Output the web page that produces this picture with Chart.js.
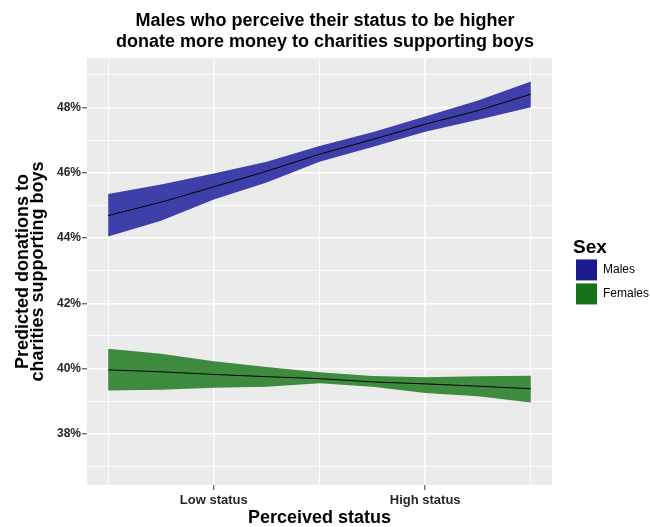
<!DOCTYPE html>
<html>
<head>
<meta charset="utf-8">
<script src="https://cdn.jsdelivr.net/npm/chart.js@4.4.1/dist/chart.umd.min.js"></script>
<style>
  html, body { margin: 0; padding: 0; background: #ffffff; }
  #wrap { width: 650px; height: 527px; position: relative; }
</style>
</head>
<body>
<div id="wrap"><canvas id="chart_donations"></canvas></div>
<script>
// perceived status (centred), read at half-unit steps
var statusX = [-2, -1.5, -1, -0.5, 0, 0.5, 1, 1.5, 2];

var malesFit   = [44.69, 45.10, 45.57, 46.05, 46.57, 47.02, 47.49, 47.91, 48.41];
var malesUpper = [45.35, 45.64, 45.98, 46.34, 46.82, 47.24, 47.73, 48.22, 48.80];
var malesLower = [44.05, 44.53, 45.18, 45.70, 46.34, 46.79, 47.26, 47.63, 48.01];

var femalesFit   = [39.96, 39.90, 39.82, 39.75, 39.69, 39.59, 39.53, 39.46, 39.38];
var femalesUpper = [40.61, 40.45, 40.22, 40.05, 39.89, 39.77, 39.73, 39.76, 39.78];
var femalesLower = [39.33, 39.35, 39.41, 39.44, 39.55, 39.44, 39.25, 39.15, 38.96];

var seriesNames = ['Males', 'Females'];
var legendColors = ['#1b1b8c', '#17701a'];
var bandColors = ['#3f3fa9', '#3e8a3e'];

var xTickValues = [-2, -1, 0, 1, 2];
var xTickLabels = ['', 'Low status', '', 'High status', ''];
var xMajor = [false, true, false, true, false];

var yTickValues = [37, 38, 39, 40, 41, 42, 43, 44, 45, 46, 47, 48, 49];
var yTickLabels = ['', '38%', '', '40%', '', '42%', '', '44%', '', '46%', '', '48%', ''];
var yMajor = [false, true, false, true, false, true, false, true, false, true, false, true, false];

var FONT = "'Liberation Sans', Arial, sans-serif";

function pts(ys) {
    return statusX.map(function(x, i) { return {x: x, y: ys[i]}; });
}

function bandSets(upper, lower, fit, idx) {
    return [
        {
            label: seriesNames[idx] + ' upper',
            data: pts(upper),
            order: 2,
            borderWidth: 0,
            pointRadius: 0,
            backgroundColor: bandColors[idx],
            fill: '+1'
        },
        {
            label: seriesNames[idx] + ' lower',
            data: pts(lower),
            order: 2,
            borderWidth: 0,
            pointRadius: 0,
            fill: false
        },
        {
            label: seriesNames[idx],
            data: pts(fit),
            order: 0,
            borderColor: '#000000',
            borderWidth: 1,
            pointRadius: 0,
            fill: false
        }
    ];
}

var chart_donations = new Chart(document.getElementById('chart_donations'), {
    type: 'line',
    data: {
        datasets: bandSets(malesUpper, malesLower, malesFit, 0)
            .concat(bandSets(femalesUpper, femalesLower, femalesFit, 1))
    },
    options: {
        animation: false,
        responsive: true,
        maintainAspectRatio: false,
        layout: { padding: { left: 0, right: 0, top: 0, bottom: 0 } },
        plugins: {
            title: {
                display: true,
                text: ['Males who perceive their status to be higher',
                       'donate more money to charities supporting boys'],
                color: '#000000',
                font: { family: FONT, size: 18, weight: 'bold', lineHeight: 1.2 },
                padding: { top: 10, bottom: 4.8 }
            },
            legend: {
                position: 'right',
                align: 'center',
                maxWidth: 77,
                title: {
                    display: true,
                    text: 'Sex',
                    position: 'start',
                    color: '#000000',
                    font: { family: FONT, size: 19, weight: 'bold', lineHeight: 0.94 },
                    padding: { top: 19, bottom: 0 }
                },
                labels: {
                    boxWidth: 21,
                    boxHeight: 21,
                    padding: 3,
                    color: '#1a1a1a',
                    font: { family: FONT, size: 12 },
                    generateLabels: function(chart) {
                        return seriesNames.map(function(name, i) {
                            return {
                                text: name,
                                fillStyle: legendColors[i],
                                strokeStyle: legendColors[i],
                                lineWidth: 0,
                                hidden: false,
                                datasetIndex: i * 3
                            };
                        });
                    }
                }
            },
            tooltip: { enabled: false }
        },
        scales: {
            x: {
                type: 'linear',
                min: -2.2,
                max: 2.2,
                afterBuildTicks: function(scale) {
                    scale.ticks = xTickValues.map(function(v) { return {value: v}; });
                },
                afterFit: function(scale) { scale.height = 42; },
                border: { display: false },
                grid: {
                    color: '#ffffff',
                    lineWidth: function(ctx) { return xMajor[ctx.index] ? 1.6 : 0.8; },
                    tickLength: 5,
                    tickWidth: 1,
                    tickColor: function(ctx) { return xMajor[ctx.index] ? '#333333' : 'rgba(0,0,0,0)'; }
                },
                ticks: {
                    autoSkip: false,
                    maxRotation: 0,
                    padding: 3,
                    color: '#262626',
                    font: { family: FONT, size: 13, weight: 'bold' },
                    callback: function(value, index) { return xTickLabels[index]; }
                },
                title: {
                    display: true,
                    text: 'Perceived status',
                    color: '#000000',
                    font: { family: FONT, size: 18, weight: 'bold', lineHeight: 1.0 },
                    padding: { top: 0, bottom: 0 }
                }
            },
            y: {
                type: 'linear',
                min: 36.43,
                max: 49.52,
                afterBuildTicks: function(scale) {
                    scale.ticks = yTickValues.map(function(v) { return {value: v}; });
                },
                afterFit: function(scale) { scale.width = 87; },
                border: { display: false },
                grid: {
                    color: '#ffffff',
                    lineWidth: function(ctx) { return yMajor[ctx.index] ? 1.6 : 0.8; },
                    tickLength: 5,
                    tickWidth: 1,
                    tickColor: function(ctx) { return yMajor[ctx.index] ? '#333333' : 'rgba(0,0,0,0)'; }
                },
                ticks: {
                    autoSkip: false,
                    padding: 1,
                    color: '#262626',
                    font: { family: FONT, size: 12, weight: 'bold' },
                    callback: function(value, index) { return yTickLabels[index]; }
                },
                title: {
                    display: true,
                    text: ['Predicted donations to', 'charities supporting boys'],
                    color: '#000000',
                    font: { family: FONT, size: 18, weight: 'bold', lineHeight: 0.8 },
                    padding: { top: 16.3, bottom: 0 }
                }
            },
            // empty strip between the panel and the legend
            gap: {
                type: 'linear',
                position: 'right',
                display: true,
                afterFit: function(scale) { scale.width = 21; },
                border: { display: false },
                grid: { display: false, drawTicks: false },
                ticks: { display: false }
            }
        }
    },
    plugins: [{
        id: 'panelBackground',
        beforeDraw: function(chart) {
            var ctx = chart.ctx;
            var a = chart.chartArea;
            ctx.save();
            ctx.fillStyle = '#ffffff';
            ctx.fillRect(0, 0, chart.width, chart.height);
            ctx.fillStyle = '#ebebeb';
            ctx.fillRect(a.left, a.top, a.right - a.left, a.bottom - a.top);
            ctx.restore();
        }
    }]
});
</script>
</body>
</html>
